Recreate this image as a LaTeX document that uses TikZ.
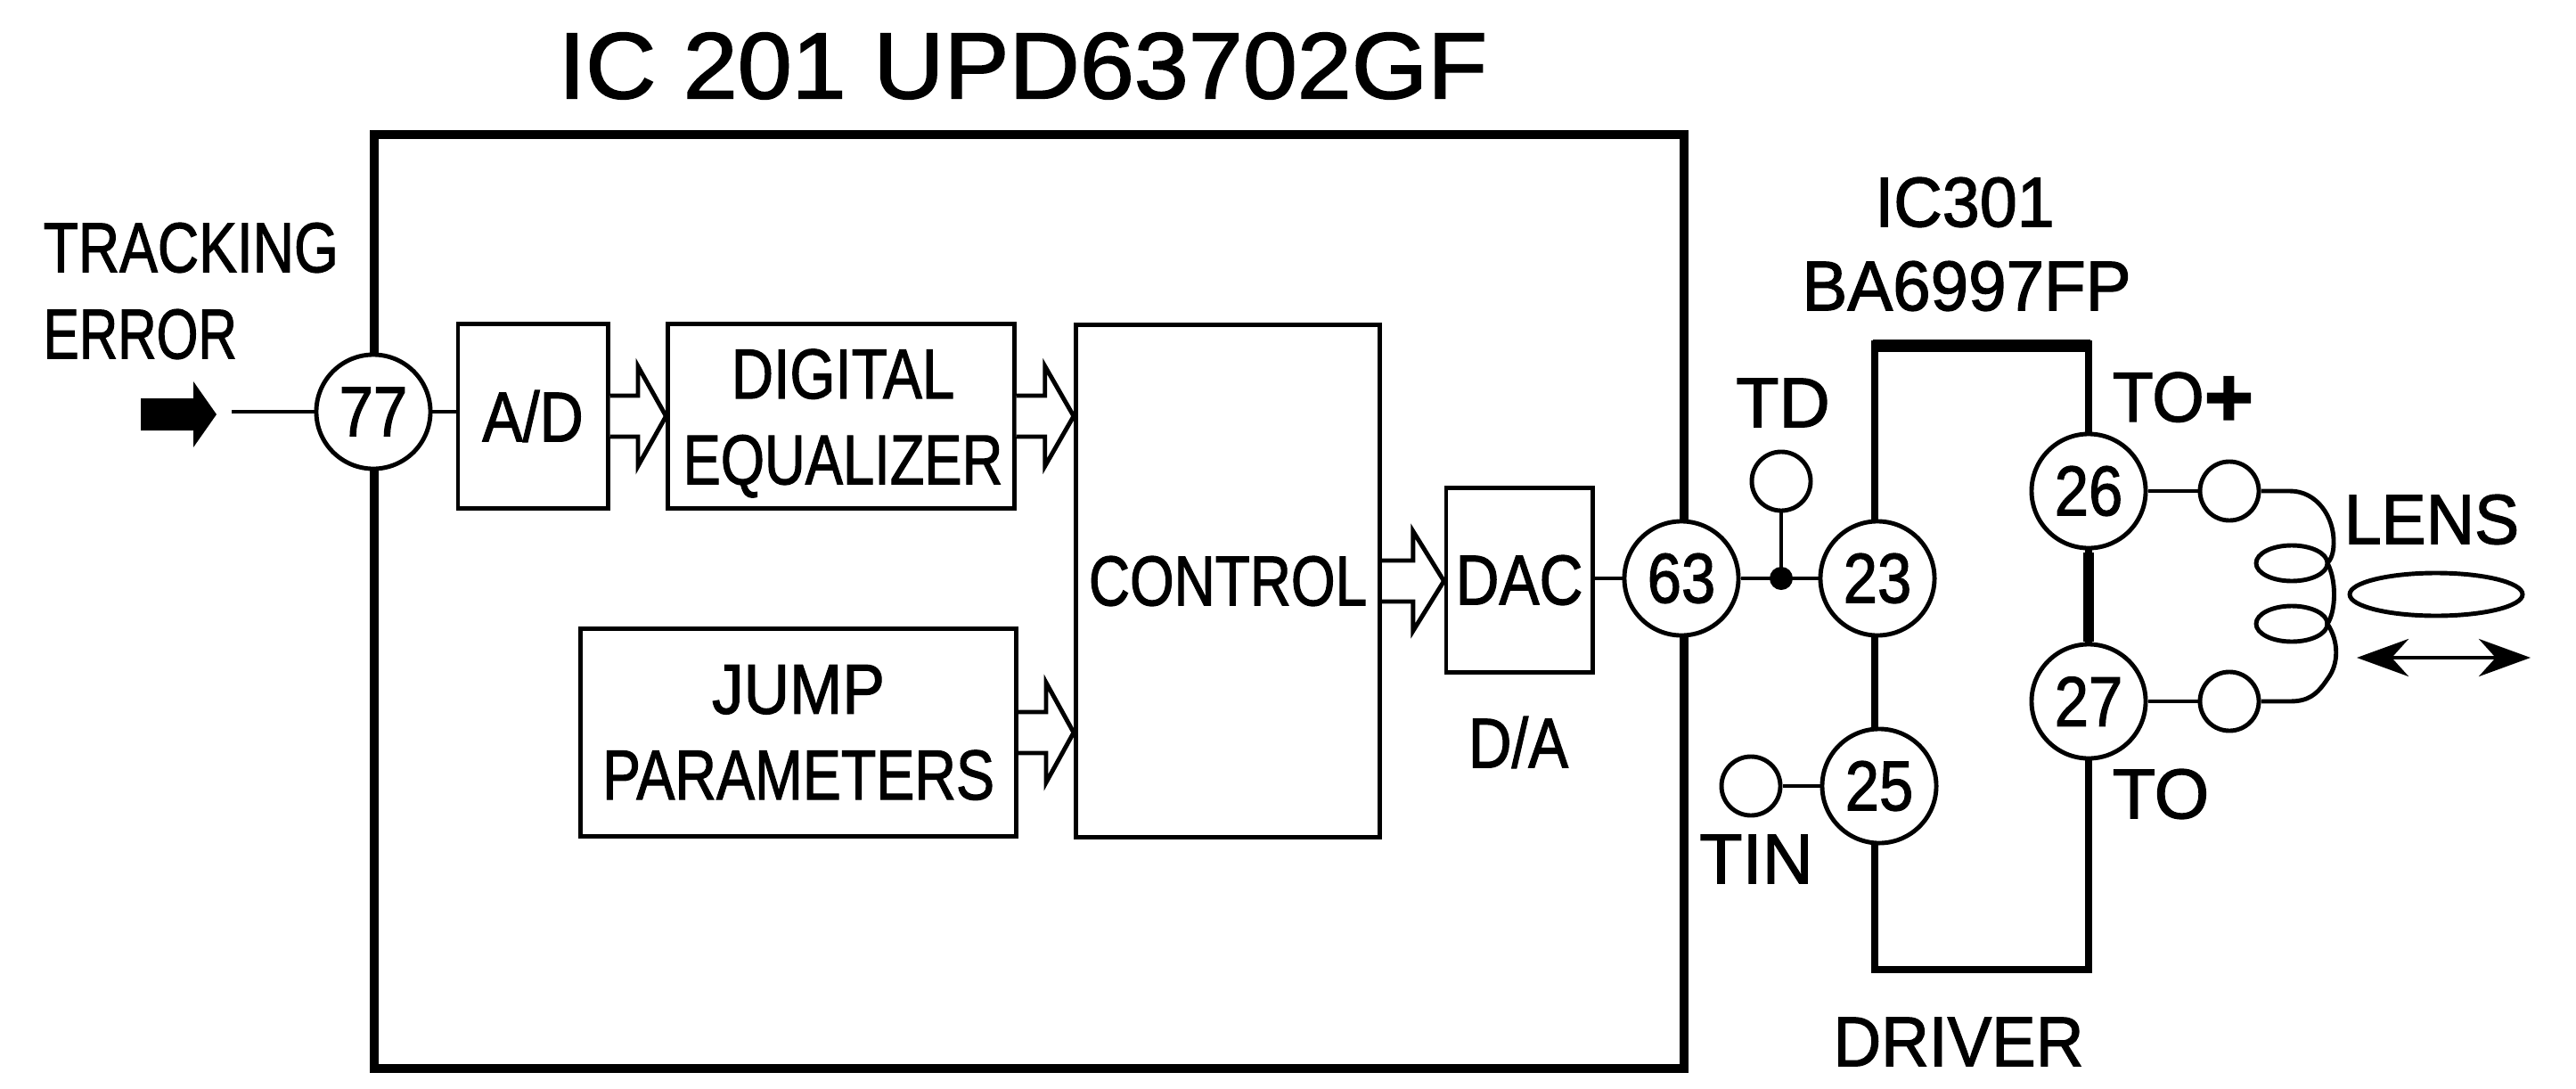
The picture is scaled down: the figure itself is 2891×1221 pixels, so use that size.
\documentclass[tikz,border=0pt]{standalone}
\usepackage{fontspec}
\setmainfont{Liberation Sans}[FakeBold=1.6]
\usetikzlibrary{arrows.meta,calc}
\newcommand{\squeeze}[2]{\scalebox{#1}[1]{#2}}
% hollow bus arrow between two blocks
\newcommand{\busarrow}[2]{
\coordinate (s) at (#1.east);
\coordinate (t) at (#2.west |- #1.east);
\coordinate (m) at ($(s)!0.5!(t)$);
\draw[thinline,line join=miter,fill=white]($(s)+(0,-23)$)--($(m)+(0,-23)$)--($(m)+(0,-56)$)--(t)--($(m)+(0,56)$)--($(m)+(0,23)$)--($(s)+(0,23)$);
}
\newcommand{\unitpx}{*0.2845pt}
\tikzset{
thinline/.style={draw=black,line width=1.4pt},
heavyline/.style={draw=black,line width=2.8pt},
blockbox/.style={thinline,rectangle,inner sep=0pt,align=center,font=\fontsize{22.5}{27.4}\selectfont},
pinnode/.style={thinline,circle,fill=white,minimum size=128\unitpx,inner sep=0pt,font=\fontsize{22.5}{27}\selectfont},
termnode/.style={thinline,circle,fill=white,minimum size=66\unitpx,inner sep=0pt},
labeltext/.style={inner sep=0pt,align=center,font=\fontsize{22.5}{27.4}\selectfont}
}
\begin{document}
\begin{tikzpicture}[x=0.01cm,y=-0.01cm,>=stealth]
\useasboundingbox(0,0)rectangle(2891,1221);
\node[heavyline,rectangle,inner sep=0pt,minimum width=1470*0.2845pt,minimum height=1048*0.2845pt](icbox)at(1155,675){};
\node[labeltext,font=\fontsize{30}{36}\selectfont](title)at(1148,74){\squeeze{1.04}{IC 201 UPD63702GF}};
\node[labeltext,anchor=west](tracking)at(48,278){\squeeze{0.81}{TRACKING}};
\node[labeltext,anchor=west](errortext)at(48,375){\squeeze{0.76}{ERROR}};
\node[blockbox,minimum width=168*0.2845pt,minimum height=206*0.2845pt](adbox)at(598,467){\squeeze{0.86}{A/D}};
\node[blockbox,minimum width=388*0.2845pt,minimum height=206*0.2845pt](eqbox)at(944,467){};
\node[labeltext](eqtext)at(946,475){\squeeze{0.83}{DIGITAL}\\\squeeze{0.8}{EQUALIZER}};
\node[blockbox,minimum width=341*0.2845pt,minimum height=574*0.2845pt](controlbox)at(1378,652){\squeeze{0.807}{CONTROL}};
\node[blockbox,minimum width=489*0.2845pt,minimum height=233*0.2845pt](jumpbox)at(896,822){\squeeze{0.9}{JUMP}\\\squeeze{0.816}{PARAMETERS}};
\node[blockbox,minimum width=164*0.2845pt,minimum height=206*0.2845pt](dacbox)at(1705,651){\squeeze{0.855}{DAC}};
\node[labeltext](datext)at(1704,833){\squeeze{0.85}{D/A}};
\busarrow{adbox}{eqbox}
\busarrow{eqbox}{controlbox}
\busarrow{jumpbox}{controlbox}
\busarrow{controlbox}{dacbox}
\draw[heavyline,line width=2.4pt](2104,386)rectangle(2344,1088);
\draw[line width=3.8pt](2102,388)--(2346,388);
\draw[line width=3.2pt](2344,620)--(2344,720);
\node[labeltext](icthree)at(2205,227){\squeeze{0.955}{IC301}};
\node[labeltext](bapart)at(2207,321){\squeeze{0.965}{BA6997FP}};
\node[labeltext](drivertext)at(2198,1169){\squeeze{0.94}{DRIVER}};
\node[labeltext](tdtext)at(2001,452){TD};
\node[labeltext](tintext)at(1971,964){TIN};
\node[labeltext,anchor=west](toplus)at(2370,448){\squeeze{0.95}{TO}\raisebox{-1.5pt}{\scalebox{1.2}{\textbf{+}}}};
\node[labeltext](tominus)at(2425,891){TO};
\node[labeltext](lenstext)at(2729,583){\squeeze{0.95}{LENS}};
\node[pinnode](pinsevenseven)at(419,462){\squeeze{0.87}{77}};
\node[pinnode](pinsixthree)at(1887,649){\squeeze{0.87}{63}};
\node[pinnode](pintwothree)at(2107,649){\squeeze{0.87}{23}};
\node[pinnode](pintwofive)at(2109,882){\squeeze{0.87}{25}};
\node[pinnode](pintwosix)at(2344,551){\squeeze{0.87}{26}};
\node[pinnode](pintwoseven)at(2344,787){\squeeze{0.87}{27}};
\node[termnode](tdterm)at(1999,540){};
\node[termnode](tinterm)at(1965,882){};
\node[termnode](coiltop)at(2502,551){};
\node[termnode](coilbot)at(2502,787){};
\fill(1999,649)circle[radius=13\unitpx]coordinate(junction);
\coordinate(trackfree)at(260,462);
\draw[line width=1.1pt](trackfree)--(pinsevenseven.west);
\draw[thinline](pinsevenseven.east)--(pinsevenseven.east -| adbox.west);
\draw[thinline](dacbox.east |- pinsixthree.west)--(pinsixthree.west);
\draw[thinline](pinsixthree.east)--(pintwothree.west);
\draw[thinline](tdterm.south)--(junction);
\draw[thinline](tinterm.east)--(pintwofive.west);
\draw[thinline](pintwosix.east)--(coiltop.west);
\draw[thinline](pintwoseven.east)--(coilbot.west);
\fill(158,447)--(217,447)--(217,428)--(243,465)--(217,502)--(217,483)--(158,483)--cycle;
\draw[thinline](coiltop.east)--(2570,551)..controls(2600,551)and(2620,580)..(2619,610)..controls(2619,620)and(2616,628)..(2612,632);
\draw[thinline](2612,632)..controls(2622,650)and(2622,685)..(2612,700)..controls(2625,720)and(2625,745)..(2612,762)..controls(2600,780)and(2590,787)..(2570,787)--(coilbot.east);
\draw[thinline](2572,632)ellipse[x radius=40,y radius=20];
\draw[thinline](2572,700)ellipse[x radius=40,y radius=20];
\draw[thinline](2734,667)ellipse[x radius=97,y radius=24];
\draw[{Stealth[length=58*0.2845pt,width=42*0.2845pt]}-{Stealth[length=58*0.2845pt,width=42*0.2845pt]},thinline](2645,738)--(2840,738);
\end{tikzpicture}
\end{document}
